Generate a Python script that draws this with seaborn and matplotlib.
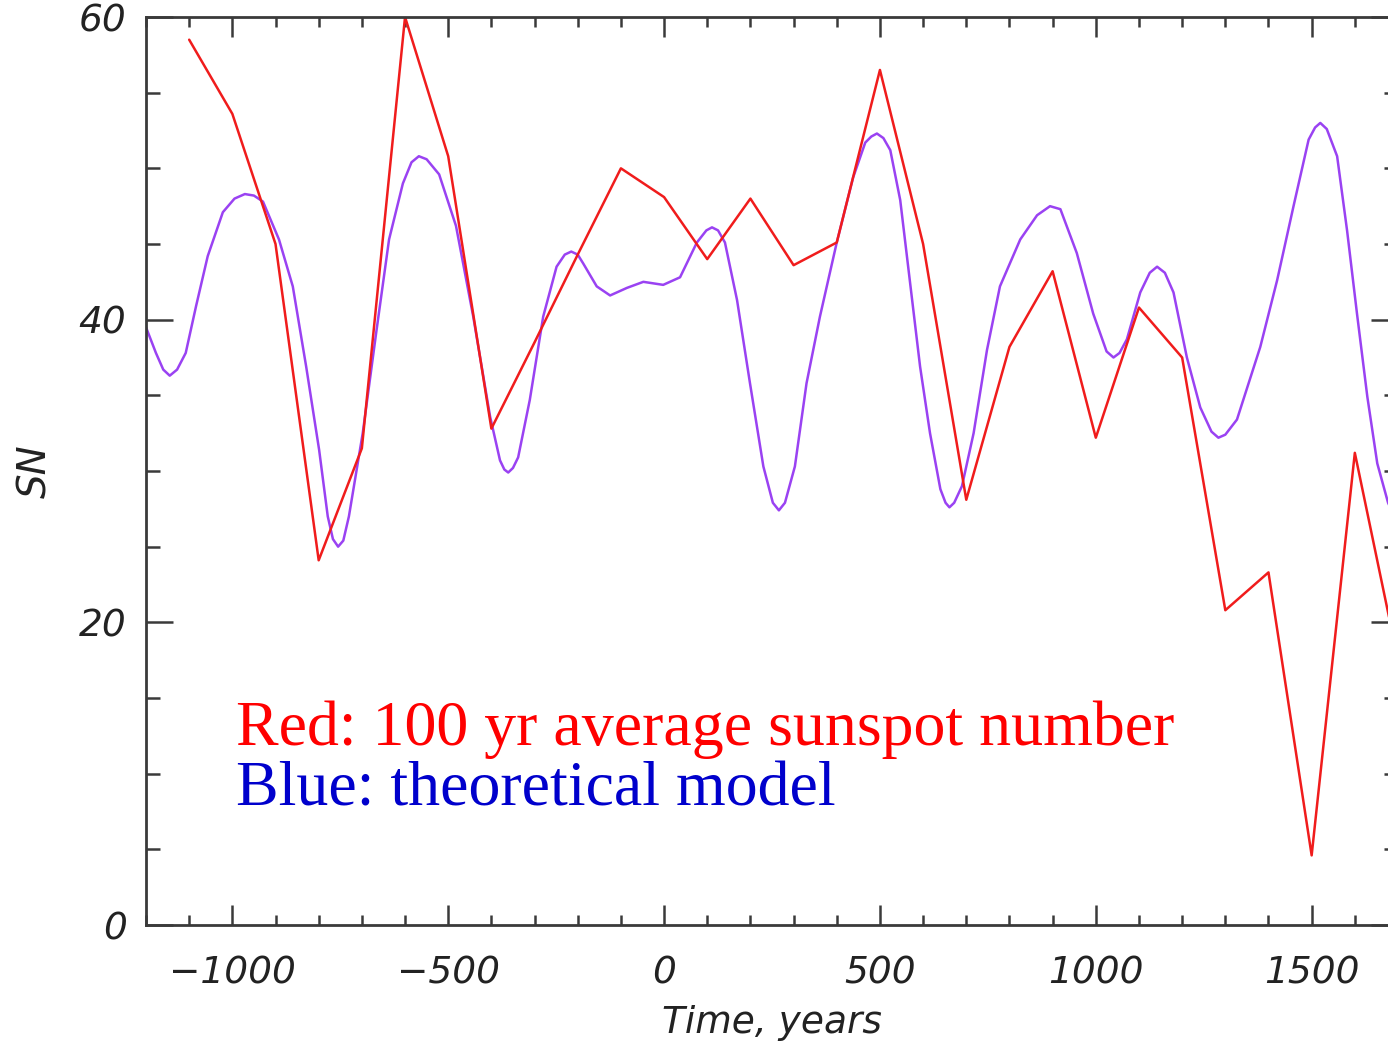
import numpy as np
import pandas as pd
import matplotlib
matplotlib.use("Agg")
import matplotlib.pyplot as plt
import seaborn as sns
from matplotlib.ticker import MultipleLocator

# ---- data ----
red_years = [-1100, -1000, -900, -800, -700, -600, -500, -400, -300, -200, -100,
             0, 100, 200, 300, 400, 500, 600, 700, 800, 900, 1000, 1100, 1200,
             1300, 1400, 1500, 1600, 1700]
red_sn = [58.5, 53.6, 45.0, 24.1, 31.5, 60.0, 50.8, 32.8, 38.5, 44.3, 50.0,
          48.1, 44.0, 48.0, 43.6, 45.1, 56.5, 45.0, 28.1, 38.2, 43.2, 32.2, 40.8, 37.5,
          20.8, 23.3, 4.6, 31.2, 17.5]

blue_years = [-1200, -1177, -1160, -1145, -1128, -1108, -1084, -1057, -1022, -995, -971,
              -950, -929, -892, -860, -829, -799, -779, -767, -755, -743, -730,
              -698, -667, -637, -605, -585, -568, -550, -521, -482, -442, -403,
              -380, -370, -361, -350, -338, -311, -280, -249, -230, -215, -200,
              -187, -156, -125, -86, -48, -2, 37, 76, 98, 111, 125, 141, 169,
              199, 230, 252, 266, 280, 303, 330, 361, 400, 438, 466, 480, 493,
              508, 524, 547, 570, 593, 616, 640, 652, 661, 672, 690, 717, 748,
              778, 825, 864, 894, 918, 956, 994, 1025, 1041, 1055, 1072, 1103,
              1125, 1142, 1160, 1180, 1211, 1242, 1268, 1284, 1300, 1327, 1381,
              1420, 1458, 1493, 1508, 1520, 1535, 1559, 1582, 1605, 1629, 1652,
              1677, 1700]
blue_sn = [39.5, 37.8, 36.7, 36.3, 36.7, 37.8, 40.9, 44.2, 47.1, 48.0, 48.3,
           48.2, 47.8, 45.3, 42.2, 36.9, 31.4, 27.0, 25.5, 25.0, 25.4, 27.0,
           32.5, 39.1, 45.3, 49.0, 50.4, 50.8, 50.6, 49.6, 46.2, 40.2, 33.6,
           30.7, 30.1, 29.9, 30.2, 30.9, 34.7, 40.2, 43.5, 44.3, 44.5, 44.3,
           43.7, 42.2, 41.6, 42.1, 42.5, 42.3, 42.8, 45.1, 45.9, 46.1, 45.9, 45.1, 41.3,
           35.8, 30.3, 27.9, 27.4, 27.9, 30.3, 35.8, 40.2, 45.1, 49.4, 51.7, 52.1, 52.3,
           52.0, 51.2, 47.9, 42.4, 36.9, 32.5, 28.8, 27.9, 27.6, 27.9, 29.0, 32.5, 38.0,
           42.2, 45.3, 46.9, 47.5, 47.3, 44.4, 40.4, 37.9, 37.5, 37.8, 38.7, 41.8,
           43.1, 43.5, 43.1, 41.8, 37.5, 34.2, 32.6, 32.2, 32.4, 33.4, 38.2,
           42.6, 47.5, 51.9, 52.7, 53.0, 52.6, 50.8, 45.9, 40.4, 34.9, 30.5,
           27.9, 26.5]

x_ticks = [-1000, -500, 0, 500, 1000, 1500]
y_ticks = [0, 20, 40, 60]
annot_red = "Red: 100 yr average sunspot number"
annot_blue = "Blue: theoretical model"

red_df = pd.DataFrame({"year": red_years, "sn": red_sn})
blue_df = pd.DataFrame({"year": blue_years, "sn": blue_sn})

sns.set_style("white")
plt.rcParams["font.family"] = ["DejaVu Sans"]

fig = plt.figure(figsize=(13.88, 10.45), dpi=100)
ax = fig.add_axes([146 / 1388, 120 / 1045, (1398 - 146) / 1388, (925 - 17) / 1045])

sns.lineplot(data=blue_df, x="year", y="sn", ax=ax, color="#9a42f2", lw=1.8, sort=False)
sns.lineplot(data=red_df, x="year", y="sn", ax=ax, color="#f01c1c", lw=1.8, sort=False)

ax.set_xlim(-1200, 1700)
ax.set_ylim(0, 60)
ax.set_xticks(x_ticks)
ax.set_yticks(y_ticks)
ax.xaxis.set_minor_locator(MultipleLocator(100))
ax.yaxis.set_minor_locator(MultipleLocator(5))

for s in ax.spines.values():
    s.set_visible(True)
    s.set_color("#3a3a3a")
    s.set_linewidth(2)

ax.tick_params(axis="both", which="both", direction="in", top=True, right=True,
               bottom=True, left=True, color="#3a3a3a", width=1.8)
ax.tick_params(axis="x", which="major", length=14.4, pad=22, labelsize=27)
ax.tick_params(axis="x", which="minor", length=7.2)
ax.tick_params(axis="y", which="major", length=19.7, pad=14, labelsize=27)
ax.tick_params(axis="y", which="minor", length=9.8)
for lab in ax.get_xticklabels() + ax.get_yticklabels():
    lab.set_fontstyle("italic")
    lab.set_color("#222222")

ax.set_xlabel("Time, years", fontsize=27, fontstyle="italic", color="#222222", labelpad=10)
ax.set_ylabel("SN", fontsize=28, fontstyle="italic", color="#222222", labelpad=18)

fig.text(236 / 1388, 1 - 745 / 1045, annot_red, color="#ff0000", fontsize=46,
         family=["Liberation Serif"], va="baseline", ha="left")
fig.text(236 / 1388, 1 - 805 / 1045, annot_blue, color="#0000cc", fontsize=46,
         family=["Liberation Serif"], va="baseline", ha="left")

fig.savefig("out.png", dpi=100)
